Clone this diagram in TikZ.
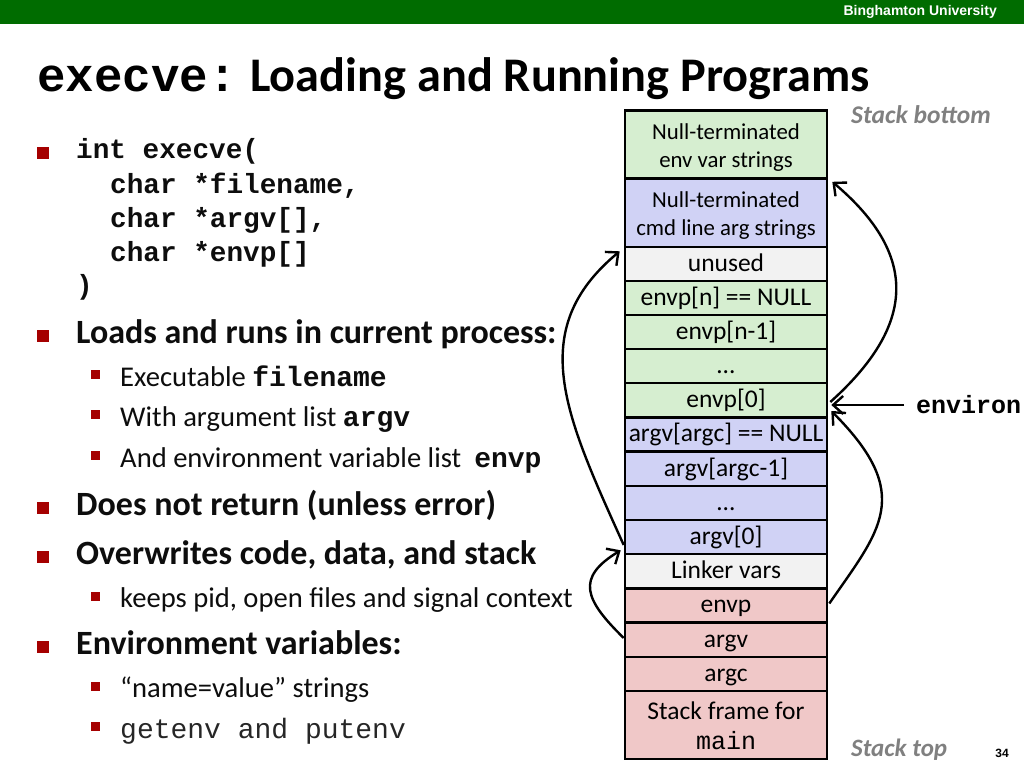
\documentclass[tikz,border=0pt]{standalone}
\usepackage{fontspec}
\setmainfont{Carlito}
\setmonofont{Liberation Mono}
\newfontfamily\arialfont{Liberation Sans}
\usetikzlibrary{arrows.meta}
\definecolor{cgreen}{RGB}{214,238,208}
\definecolor{cblue}{RGB}{208,210,245}
\definecolor{cgrey}{RGB}{242,242,242}
\definecolor{cpink}{RGB}{240,200,200}
\definecolor{bannergreen}{RGB}{0,108,0}
\definecolor{bulletred}{RGB}{165,0,0}
\definecolor{labgrey}{RGB}{128,128,128}
\definecolor{txt}{RGB}{13,13,13}
\newcommand\cbold{\fontsize{28}{32}\ttfamily\bfseries}
\tikzset{
  cell/.style={draw, line width=2.6pt, minimum width=202pt, inner sep=0pt, align=center,
    font=\fontsize{25.5}{28}\selectfont},
  rowA/.style={cell, minimum height=34pt, text height=19pt, text depth=5pt},
  rowB/.style={cell, minimum height=68pt},
  rowtxt/.style={inner sep=0pt, align=center, font=\fontsize{22.8}{28}\selectfont},
  txtl/.style={anchor=base west, inner sep=0pt, text=txt},
  mainb/.style={txtl, font=\fontsize{34}{38}\selectfont\bfseries},
  subt/.style={txtl, font=\fontsize{28.6}{32}\selectfont},
  codel/.style={txtl, font=\fontsize{27.7}{30}\ttfamily\bfseries},
  bigbul/.style={fill=bulletred, minimum size=12pt, inner sep=0pt},
  smallbul/.style={fill=bulletred, minimum size=9pt, inner sep=0pt},
  arr/.style={line width=2.4pt, -{Straight Barb[length=10pt,width=18pt,line width=2.4pt]}},
  side/.style={anchor=base west, inner sep=0pt, text=labgrey, font=\fontsize{25.5}{28}\selectfont\bfseries\itshape}
}
\begin{document}
\begin{tikzpicture}[x=1pt,y=-1pt]
\useasboundingbox (0,0) rectangle (1024,768);
% banner
\fill[bannergreen] (0,0) rectangle (1024,24);
\node[anchor=east, inner sep=0pt, text=white, font=\fontsize{14}{16}\arialfont\bfseries] (univ) at (997,12) {Binghamton University};
% title
\node[anchor=base west, inner sep=0pt, text=black, font=\fontsize{47.5}{50}\ttfamily\bfseries] (title1) at (37,91) {execve:};
\node[anchor=base west, inner sep=0pt, text=black, font=\fontsize{48.3}{52}\selectfont\bfseries] (title2) at (250,91) {Loading and Running Programs};
% left bullets
\node[bigbul] (b1) at (43,153) {};
\node[codel] (l1) at (76,158) {int execve(};
\node[codel] (l2) at (110,193) {char *filename,};
\node[codel] (l3) at (110,227) {char *argv[],};
\node[codel] (l4) at (110,261) {char *envp[]};
\node[codel] (l5) at (76,294) {)};
\node[bigbul] (b2) at (43,336) {};
\node[mainb] (m2) at (76,343) {Loads and runs in current process:};
\node[smallbul] (s1) at (95,374) {};
\node[subt] (t1) at (120,386) {Executable {\cbold filename}};
\node[smallbul] (s2) at (95,414) {};
\node[subt] (t2) at (120,426) {With argument list {\cbold argv}};
\node[smallbul] (s3) at (95,455) {};
\node[subt] (t3) at (120,467) {And environment variable list\ \ {\cbold envp}};
\node[bigbul] (b3) at (43,508) {};
\node[mainb] (m3) at (76,515) {Does not return (unless error)};
\node[bigbul] (b4) at (43,557) {};
\node[mainb] (m4) at (76,564) {Overwrites code, data, and stack};
\node[smallbul] (s4) at (95,596) {};
\node[subt] (t4) at (120,607) {keeps pid, open files and signal context};
\node[bigbul] (b5) at (43,647) {};
\node[mainb] (m5) at (76,654) {Environment variables:};
\node[smallbul] (s5) at (95,686) {};
\node[subt] (t5) at (120,697) {“name=value” strings};
\node[smallbul] (s6) at (95,726) {};
\node[txtl, font=\fontsize{28}{30}\ttfamily, text=black!85] (t6) at (120,738) {getenv and putenv};
% stack
\node[rowB, fill=cgreen] (r1) at (726,144.5) {};
\node[rowtxt] (r1t) at ([yshift=-3pt]r1.center) {Null-terminated\\env var strings};
\node[rowB, fill=cblue] (r2) at (726,213) {};
\node[rowtxt] (r2t) at ([yshift=-3pt]r2.center) {Null-terminated\\cmd line arg strings};
\node[rowA, fill=cgrey] (r3) at (726,264) {unused};
\node[rowA, fill=cgreen] (r4) at (726,298) {envp[n] == NULL};
\node[rowA, fill=cgreen] (r5) at (726,332) {envp[n-1]};
\node[rowA, fill=cgreen] (r6) at (726,366) {…};
\node[rowA, fill=cgreen] (r7) at (726,400) {envp[0]};
\node[rowA, fill=cblue] (r8) at (726,434.5) {argv[argc] == NULL};
\node[rowA, fill=cblue] (r9) at (726,469) {argv[argc-1]};
\node[rowA, fill=cblue] (r10) at (726,503) {…};
\node[rowA, fill=cblue] (r11) at (726,537) {argv[0]};
\node[rowA, fill=cgrey] (r12) at (726,571) {Linker vars};
\node[rowA, fill=cpink] (r13) at (726,605.5) {envp};
\node[rowA, fill=cpink] (r14) at (726,640) {argv};
\node[rowA, fill=cpink] (r15) at (726,674) {argc};
\node[rowB, fill=cpink] (r16) at (726,725) {};
\node[rowtxt, font=\fontsize{25.5}{30}\selectfont] (r16t) at ([yshift=-1pt]r16.center) {Stack frame for\\{\fontsize{25}{30}\ttfamily main}};
% side labels
\node[side] (sb) at (851,123) {Stack bottom};
\node[side, font=\fontsize{25}{28}\selectfont\bfseries\itshape] (st) at (851,756) {Stack top};
\node[anchor=west, inner sep=0pt, font=\fontsize{25}{28}\ttfamily\bfseries] (environ) at (916,405) {environ};
\node[anchor=base, inner sep=0pt, font=\fontsize{12}{14}\arialfont\bfseries] (pg) at (1002,757) {34};
% arrows
\draw[arr] ([xshift=-12pt]environ.west) -- ([xshift=3pt]r7.east |- environ.west);
\draw[arr] ([shift={(2,2)}]r7.east) .. controls (915,326) and (920,256) .. ([shift={(4,2)}]r1.south east);
\draw[arr] ([shift={(1,-2)}]r13.east) .. controls (880,530) and (915,495) .. ([shift={(3,11)}]r7.east);
\draw[arr] ([shift={(0,8)}]r11.west) .. controls (565,415) and (525,330) .. ([shift={(-4,3)}]r2.south west);
\draw[arr] ([shift={(0,-2)}]r14.west) .. controls (585,600) and (575,578) .. ([shift={(-3,-5)}]r11.south west);
\end{tikzpicture}
\end{document}
